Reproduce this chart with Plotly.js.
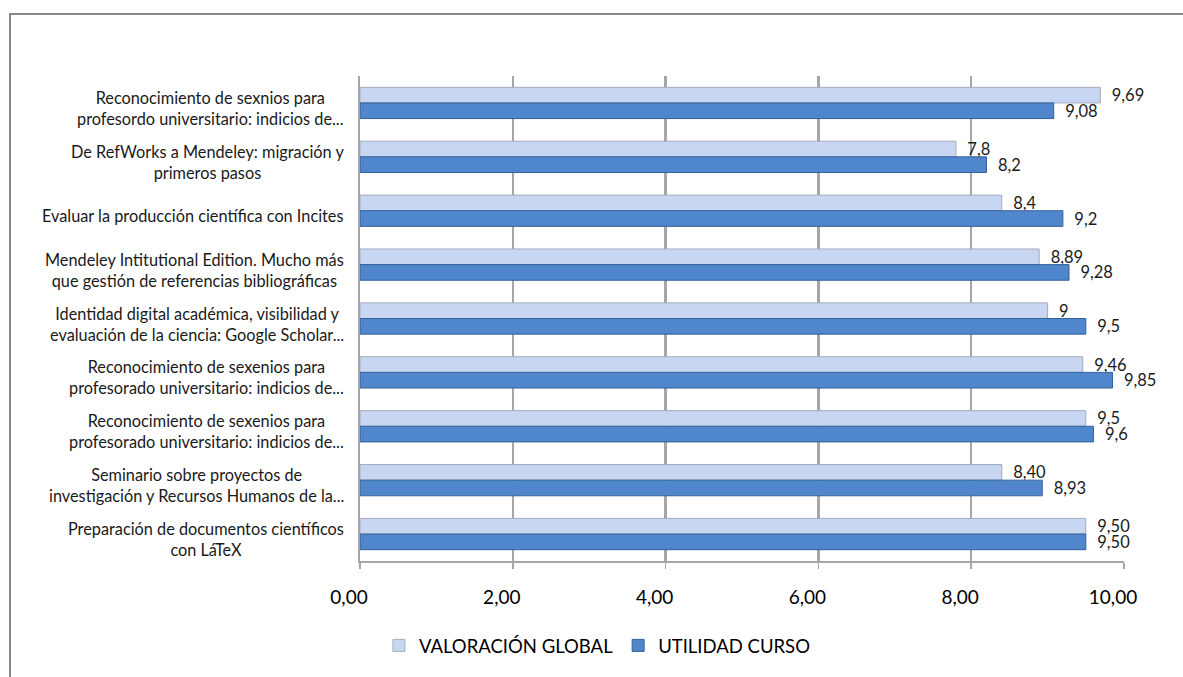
<!DOCTYPE html>
<html>
<head>
<meta charset="utf-8">
<script src="https://cdn.plot.ly/plotly-3.0.1.min.js"></script>
<style>
  html, body { margin: 0; padding: 0; background: #ffffff; overflow: hidden; }
  #wrap { position: relative; width: 1183px; height: 677px; }
  #chart { position: absolute; left: 0; top: 0; width: 1183px; height: 677px; }
  #frame { position: absolute; left: 9px; top: 13px; width: 1400px; height: 900px;
           border-left: 2px solid #878787; border-top: 2px solid #878787; pointer-events: none; }
</style>
</head>
<body>
<div id="wrap">
  <div id="chart"></div>
  <div id="frame"></div>
</div>
<script>
// ---- data (top to bottom as shown) ----
const categories = [
  'Reconocimiento de sexnios para<br>profesordo universitario: indicios de...',
  'De RefWorks a Mendeley: migración y<br>primeros pasos',
  'Evaluar la producción científica con Incites',
  'Mendeley Intitutional Edition. Mucho más<br>que gestión de referencias bibliográficas',
  'Identidad digital académica, visibilidad y<br>evaluación de la ciencia: Google Scholar...',
  'Reconocimiento de sexenios para<br>profesorado universitario: indicios de...',
  'Reconocimiento de sexenios para<br>profesorado universitario: indicios de...',
  'Seminario sobre proyectos de<br>investigación y Recursos Humanos de la...',
  'Preparación de documentos científicos<br>con LáTeX'
];
const valoracionGlobal = [9.69, 7.8, 8.4, 8.89, 9, 9.46, 9.5, 8.40, 9.50];
const valoracionLabels = ['9,69', '7,8', '8,4', '8,89', '9', '9,46', '9,5', '8,40', '9,50'];
const utilidadCurso = [9.08, 8.2, 9.2, 9.28, 9.5, 9.85, 9.6, 8.93, 9.50];
const utilidadLabels = ['9,08', '8,2', '9,2', '9,28', '9,5', '9,85', '9,6', '8,93', '9,50'];
const xTickVals = [0, 2, 4, 6, 8, 10];
const xTickText = ['0,00', '2,00', '4,00', '6,00', '8,00', '10,00'];
const seriesNames = ['VALORACIÓN GLOBAL', 'UTILIDAD CURSO'];

const positions = categories.map((_, i) => i);
const FONT = 'Lato, "Open Sans", sans-serif';

const traces = [
  {
    type: 'bar', orientation: 'h', name: seriesNames[0],
    y: positions, x: valoracionGlobal,
    text: valoracionLabels, texttemplate: '\u00a0\u00a0%{text}',
    textposition: 'outside', constraintext: 'none', cliponaxis: false,
    textfont: { family: FONT, size: 16.5, color: '#1a1a1a' },
    marker: { color: '#c8d6f1', line: { color: '#a3abbd', width: 1 } },
    hoverinfo: 'x+name'
  },
  {
    type: 'bar', orientation: 'h', name: seriesNames[1],
    y: positions, x: utilidadCurso,
    text: utilidadLabels, texttemplate: '\u00a0\u00a0%{text}',
    textposition: 'outside', constraintext: 'none', cliponaxis: false,
    textfont: { family: FONT, size: 16.5, color: '#1a1a1a' },
    marker: { color: '#4f86cc', line: { color: '#34609a', width: 1 } },
    hoverinfo: 'x+name'
  }
];

const annotations = categories.map((c, i) => ({
  xref: 'paper', yref: 'y', x: 0, y: i,
  xanchor: 'right', yanchor: 'middle', xshift: -14, yshift: -5,
  align: 'center', showarrow: false, text: c,
  font: { family: FONT, size: 16.3, color: '#1a1a1a' }
}));

const layout = {
  width: 1183, height: 677,
  margin: { l: 360, r: 59, t: 76, b: 116 },
  paper_bgcolor: '#ffffff', plot_bgcolor: '#ffffff',
  barmode: 'group', bargap: 0.42, bargroupgap: 0,
  showlegend: true,
  legend: {
    orientation: 'h', xref: 'container', yref: 'container',
    x: 0.505, y: 0.046, xanchor: 'center', yanchor: 'middle',
    font: { family: FONT, size: 18.5, color: '#000000' },
    itemwidth: 30, traceorder: 'normal'
  },
  xaxis: {
    range: [0, 10], tickvals: xTickVals, ticktext: xTickText,
    showgrid: true, gridcolor: '#a6a6a6', gridwidth: 2.5,
    zeroline: false, showline: true, linecolor: '#a6a6a6', linewidth: 2,
    ticks: 'outside', ticklen: 6, tickcolor: '#a6a6a6', tickwidth: 1.5,
    tickfont: { family: FONT, size: 19, color: '#000000' },
    ticklabelshift: -11, ticklabelstandoff: 12,
    fixedrange: true
  },
  yaxis: {
    range: [8.5, -0.5], tickvals: [], showticklabels: false,
    showgrid: false, zeroline: false, showline: true,
    linecolor: '#a6a6a6', linewidth: 2.5, fixedrange: true
  },
  annotations: annotations,
  font: { family: FONT }
};

Plotly.newPlot('chart', traces, layout, { displayModeBar: false, staticPlot: true });
</script>
</body>
</html>
